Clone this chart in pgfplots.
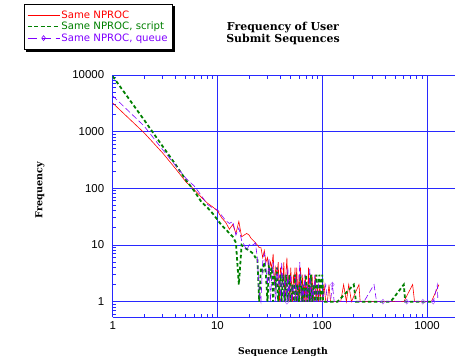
\documentclass[border=0pt]{standalone}
\usepackage{pgfplots}
\pgfplotsset{compat=1.18}
\usepackage{fontspec}
\setmainfont{Liberation Sans}
\newfontfamily\labfont{DejaVu Serif}
\newfontfamily\legfont{DejaVu Sans}
\usetikzlibrary{backgrounds}
\definecolor{qviolet}{RGB}{128,0,255}
\definecolor{sgreen}{RGB}{0,128,0}
\definecolor{gridblue}{RGB}{40,40,255}

\pgfplotstableread{
x y
1 3200
2 950
3 420
4 220
5 130
6 95
7 70
8 55
9 47
10 40
11 30
12 25
13 19
14 23
15 16
16 26
17 14
18 15
19 16
20 15
21 13
22 12
23 11
24 10
25 9
26 9
27 6
28 8
29 5
30 6
31 3
32 5
33 4
34 7
35 2
36 4
37 3
38 5
39 1
40 4
41 3
42 2
43 5
44 1
45 3
46 6
47 2
48 3
49 1
50 4
51 2
52 1
53 3
54 2
55 4
56 1
57 4
58 2
59 1
60 3
61 1
62 4
63 2
64 1
65 3
66 1
67 2
68 1
69 3
70 1
71 2
72 1
74 4
75 1
76 2
78 1
80 3
82 1
84 2
86 3
87 1
90 2
92 1
95 2
97 1
100 1
104 2
108 1
112 1
116 2
120 1
130 1
150 1
160 2
170 1
179 2
190 1
224 2
230 1
260 1
300 1
380 1
500 1
600 1
729 2
760 1
900 1
1100 1
1300 2
}\redtab

\pgfplotstableread{
x y
1 9500
2 1600
3 550
4 260
5 140
6 90
7 58
8 46
9 36
10 28
11 22
12 19
13 16
14 14
15 11
16 2
17 10
18 9
19 8.5
20 8
21 7.5
22 7
23 6
24 6
25 1
26 4
27 3.5
28 5
29 3
30 1
31 4
32 3
33 4
34 1
35 3
36 2
37 4
38 1
39 2
40 3
41 1
42 3
43 2
44 1
45 3
46 2
47 1
48 2
49 3
50 1
52 2
54 1
55 3
57 1
58 2
60 1
62 3
64 1
65 2
67 1
70 3
72 1
74 2
76 1
78 3
80 1
83 2
85 1
88 3
90 1
94 3
96 1
100 3
102 1
110 1
120 1
140 1
200 2
210 1
300 1
450 1
600 2
620 1
800 1
1000 1
1150 1
}\greentab

\pgfplotstableread{
x y
1 4300
2 1250
3 480
4 250
5 150
6 110
7 75
8 52
9 45
10 42
11 33
12 27
13 24
14 26
15 15
16 20
17 12
18 10
19 8
20 10
21 10.5
22 10
23 11
24 6
25 1.5
26 1
27 5
28 7
29 4
30 2
31 6
32 1
33 3
34 5
35 2
36 1
37 4
38 2
39 3
40 1
41 5
42 2
43 1
44 3
45 2
46 1
47 4
48 1
49 2
50 3
51 1
53 2
55 1
56 3
58 1
60 2
61 5
63 1
65 2
66 1
68 3
70 1
72 2
74 1
76 4
78 1
80 2
82 1
85 3
88 1
92 2
95 1
100 1
108 2
112 1
120 1
125 2
130 1
160 1
200 1
250 1
312 2
330 1
380 1
500 1
640 1
912 1
1148 1
1256 2
1270 1
}\violettab

\pgfplotstableread{
x y
46 1
125 2
380 1
640 1
912 1
1148 1
}\violetmarks

\begin{document}
\begin{tikzpicture}
\path[use as bounding box] (-112.7bp,-44.7bp) rectangle (342.3bp,317.3bp);
\begin{axis}[
  at={(0,0)}, anchor=south west,
  scale only axis,
  width=342.3bp, height=242.3bp,
  xmode=log, ymode=log,
  xmin=1, xmax=1850,
  ymin=0.53, ymax=10000,
  axis x line=box, axis y line=left,
  axis line style={-, gridblue, line width=1bp},
  xtick={1,10,100,1000}, xticklabels={1,10,100,1000},
  ytick={1,10,100,1000,10000}, yticklabels={1,10,100,1000,10000},
  minor xtick={2,3,4,5,6,7,8,9,20,30,40,50,60,70,80,90,200,300,400,500,600,700,800,900},
  minor ytick={0.6,0.7,0.8,0.9,2,3,4,5,6,7,8,9,20,30,40,50,60,70,80,90,200,300,400,500,600,700,800,900,2000,3000,4000,5000,6000,7000,8000,9000},
  tick align=inside,
  major tick length=0bp,
  minor tick length=3.5bp,
  tick style={gridblue, line width=1bp},
  major grid style={gridblue, line width=1bp},
  xmajorgrids, ymajorgrids,
  tick label style={font=\fontsize{11.5}{13}\selectfont},
  yticklabel style={xshift=-5bp},
  xticklabel style={yshift=-1bp},
  xlabel={Sequence Length},
  ylabel={Frequency},
  xlabel style={font=\labfont\bfseries\fontsize{9.3}{11}\selectfont, at={(axis description cs:0.4975,-0.143)}, anchor=center},
  ylabel style={font=\labfont\bfseries\fontsize{9.6}{11}\selectfont, at={(axis description cs:-0.2124,0.525)}, anchor=center},
  title={Frequency of User\\Submit Sequences},
  title style={font=\labfont\bfseries\fontsize{11}{11.3}\selectfont, align=center, at={(axis description cs:0.4975,1.147)}, anchor=center},
  legend style={name=leg, at={(axis description cs:-0.2595,1.295)}, anchor=north west,
    draw=black, line width=0.8bp, fill=white,
    font=\legfont\fontsize{10.2}{12}\selectfont, inner xsep=3bp, inner ysep=5.5bp,
    row sep=-0.8bp, nodes={inner sep=1.5bp}},
  legend cell align=left,
  legend image code/.code={\draw[line width=0.6bp, mark repeat=2,mark phase=2,#1] plot coordinates {(0bp,0bp) (16bp,0bp) (32bp,0bp)};},
]
\addlegendimage{red, line width=0.6bp}
\addlegendentry{\textcolor{red}{Same NPROC}}
\addlegendimage{sgreen, line width=1.6bp, dash pattern=on 4bp off 2.5bp}
\addlegendentry{\textcolor{sgreen}{Same NPROC, script}}
\addlegendimage{qviolet, line width=0.6bp, dash pattern=on 9bp off 5bp, mark=diamond, mark size=2.5bp, mark options={solid, fill=white}}
\addlegendentry{\textcolor{qviolet}{Same NPROC, queue}}

\addplot[red, line width=0.6bp, forget plot] table[x=x,y=y] {\redtab};
\addplot[sgreen, line width=1.8bp, dash pattern=on 3.5bp off 2.5bp, forget plot] table[x=x,y=y] {\greentab};
\addplot[qviolet, line width=0.6bp, dash pattern=on 6bp off 3bp, forget plot] table[x=x,y=y] {\violettab};
\addplot[only marks, mark=diamond, mark size=2.5bp, qviolet!70, mark options={solid, fill=qviolet!15}, forget plot] table[x=x,y=y] {\violetmarks};
\end{axis}
\begin{scope}[on background layer]
\fill[black] ([shift={(2.2bp,-2.2bp)}]leg.south west) rectangle ([shift={(2.2bp,-2.2bp)}]leg.north east);
\end{scope}
\end{tikzpicture}
\end{document}
